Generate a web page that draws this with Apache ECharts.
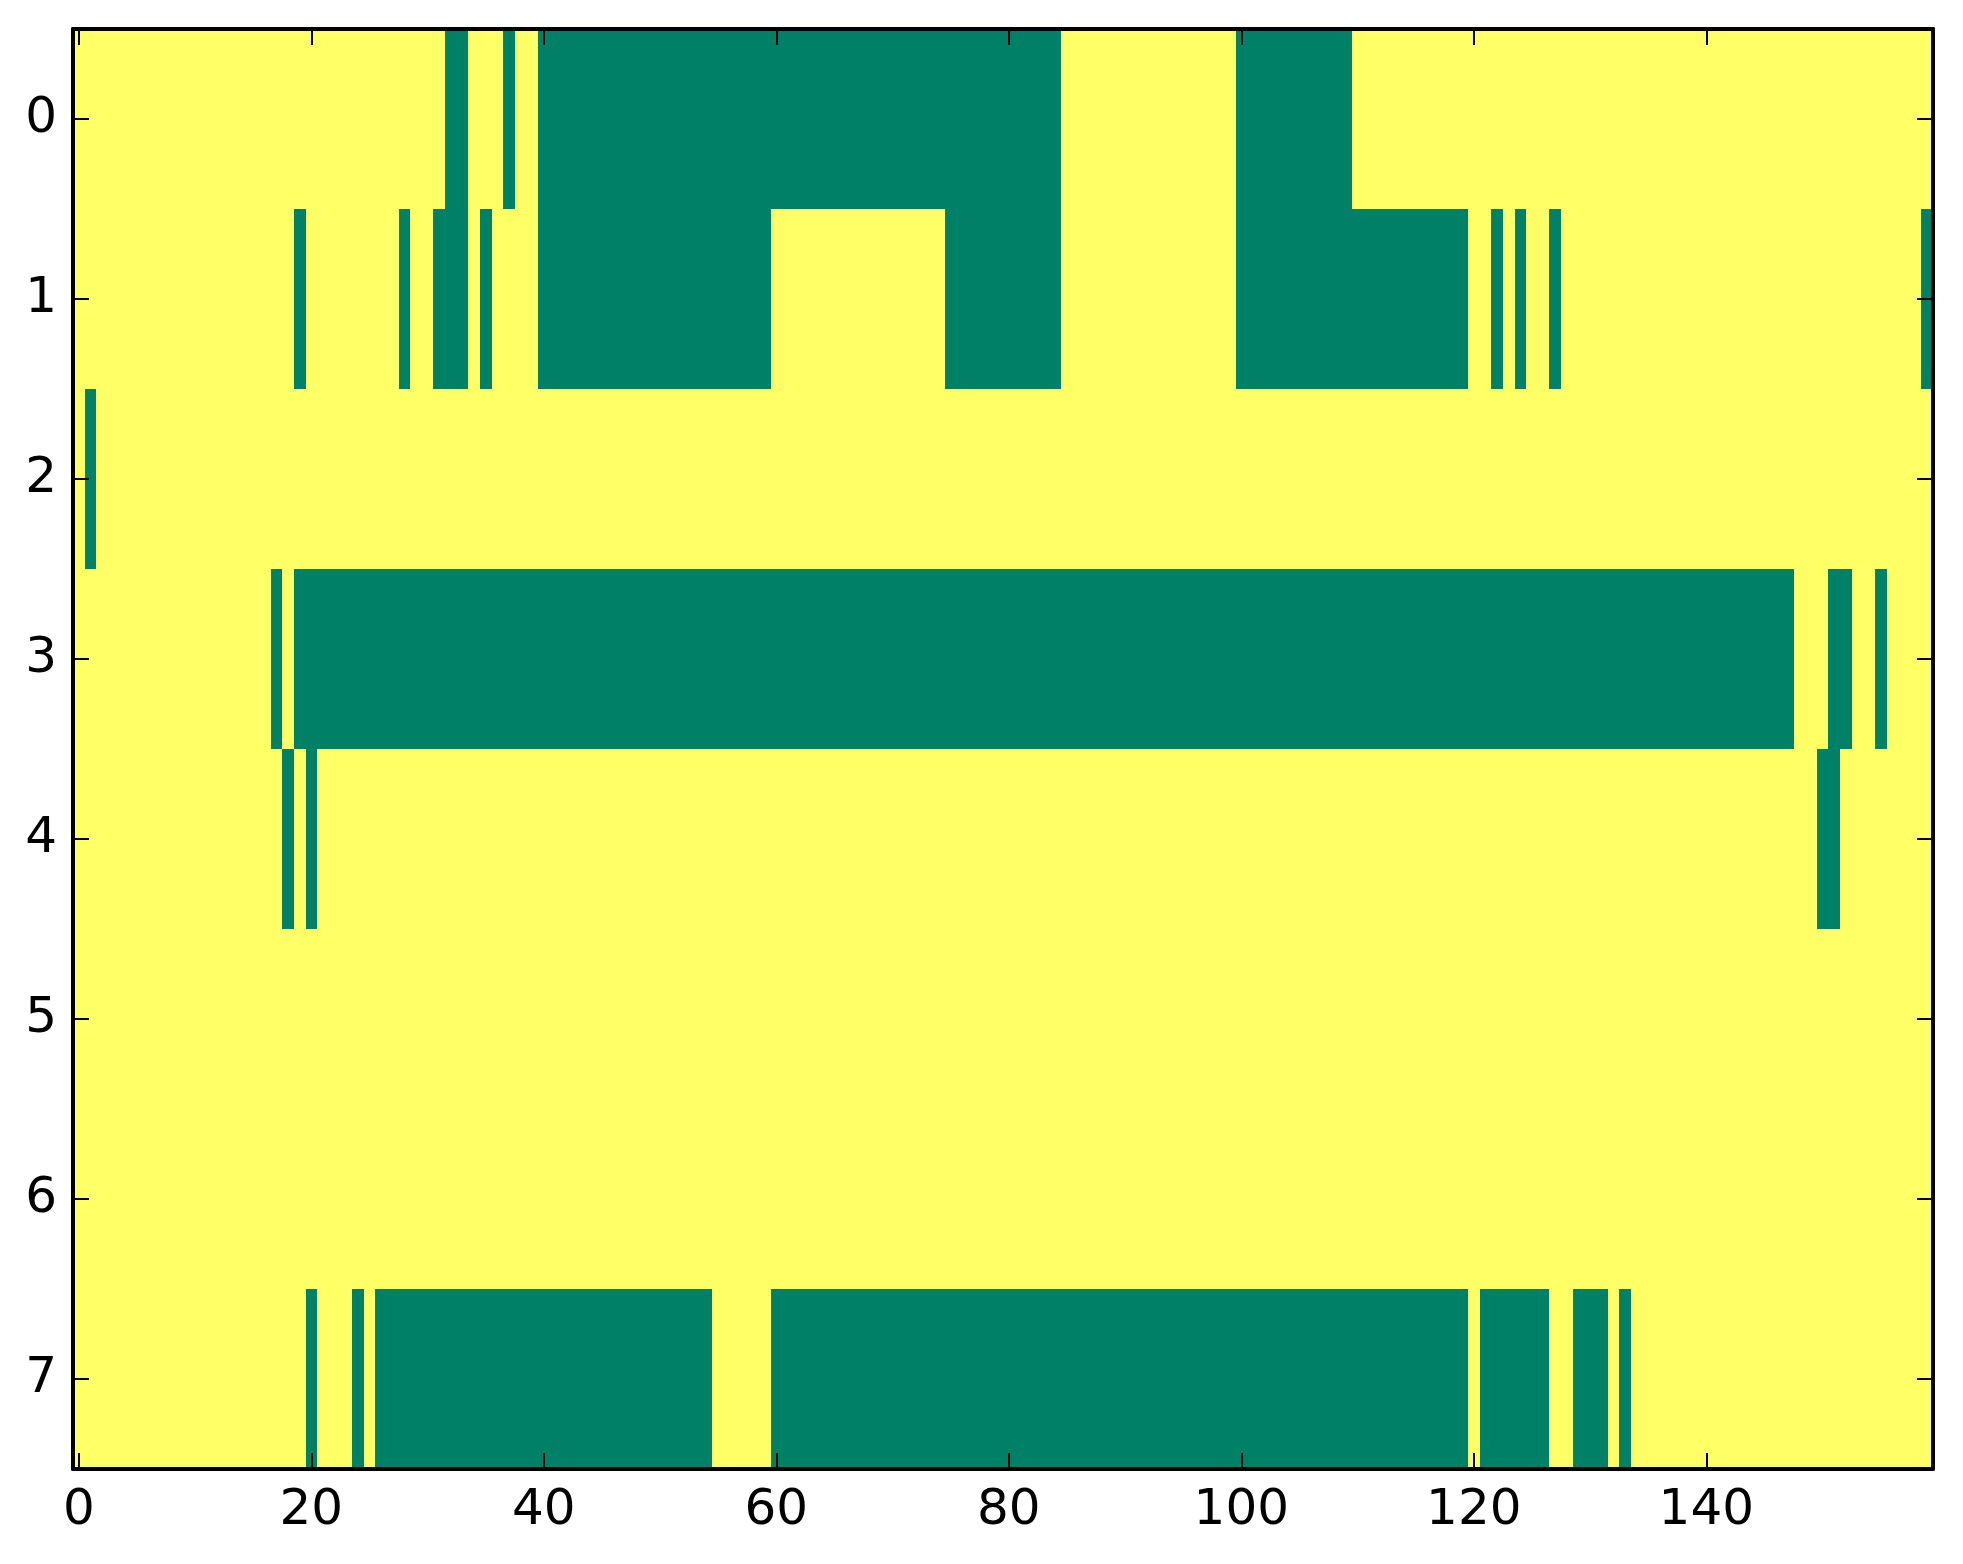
<!DOCTYPE html>
<html>
<head>
<meta charset="utf-8">
<script src="https://cdn.jsdelivr.net/npm/echarts@6/dist/echarts.min.js"></script>
<style>
html,body{margin:0;padding:0;background:#fff;}
#chart{width:1963px;height:1564px;}
</style>
</head>
<body>
<div id="chart"></div>
<script>
// Column categories (0..159) and row categories (0..7)
var columns = [];
for (var c = 0; c < 160; c++) columns.push(String(c));
var rows = ['0','1','2','3','4','5','6','7'];

// Green (value 0) runs per row, [startCol, endCol] inclusive; everything else is 1 (yellow)
var row0Green = [[32,33],[37,37],[40,84],[100,109]];
var row1Green = [[19,19],[28,28],[31,33],[35,35],[40,59],[75,84],[100,119],[122,122],[124,124],[127,127],[159,159]];
var row2Green = [[1,1]];
var row3Green = [[17,17],[19,147],[151,152],[155,155]];
var row4Green = [[18,18],[20,20],[150,151]];
var row5Green = [];
var row6Green = [];
var row7Green = [[20,20],[24,24],[26,54],[60,119],[121,126],[129,131],[133,133]];
var greenRuns = [row0Green,row1Green,row2Green,row3Green,row4Green,row5Green,row6Green,row7Green];

var xTickEvery = 20;

var data = [];
for (var r = 0; r < rows.length; r++) {
  for (var x = 0; x < columns.length; x++) {
    var v = 1;
    greenRuns[r].forEach(function (run) { if (x >= run[0] && x <= run[1]) v = 0; });
    data.push([x, r, v]);
  }
}

var GREEN = '#008066', YELLOW = '#ffff66';
var chart = echarts.init(document.getElementById('chart'), null, {renderer:'canvas'});
var FONT = 'DejaVu Sans';
var lineStyle = {color:'#000', width:4};
var tickStyle = {color:'#000', width:2};
var xTickFn = function (i) { return i % xTickEvery === 0; };

function renderCell(params, api) {
  var p = api.coord([api.value(0), api.value(1)]);
  var s = api.size([1, 1]);
  var x0 = Math.round(p[0] - s[0] / 2), x1 = Math.round(p[0] + s[0] / 2);
  var y0 = Math.round(p[1] - s[1] / 2), y1 = Math.round(p[1] + s[1] / 2);
  return {
    type: 'rect',
    shape: {x: x0, y: y0, width: x1 - x0, height: y1 - y0},
    style: {fill: api.value(2) ? YELLOW : GREEN, stroke: null}
  };
}

chart.setOption({
  animation: false,
  backgroundColor: '#fff',
  grid: {left:73, top:29, width:1860, height:1440, containLabel:false},
  xAxis: [
    {type:'category', data:columns, position:'bottom', boundaryGap:true, z:10,
     axisLine:{show:true, lineStyle:lineStyle},
     axisTick:{show:true, inside:true, length:16, alignWithLabel:true, interval:xTickFn, lineStyle:tickStyle},
     axisLabel:{show:true, interval:xTickFn, margin:17, fontFamily:FONT, fontSize:50, color:'#000'},
     splitLine:{show:false}},
    {type:'category', data:columns, position:'top', boundaryGap:true, z:10,
     axisLine:{show:true, lineStyle:lineStyle},
     axisTick:{show:true, inside:true, length:16, alignWithLabel:true, interval:xTickFn, lineStyle:tickStyle},
     axisLabel:{show:false}, splitLine:{show:false}}
  ],
  yAxis: [
    {type:'category', data:rows, inverse:true, position:'left', boundaryGap:true, z:10,
     axisLine:{show:true, lineStyle:lineStyle},
     axisTick:{show:true, inside:true, length:16, alignWithLabel:true, interval:0, lineStyle:tickStyle},
     axisLabel:{show:true, interval:0, margin:16, fontFamily:FONT, fontSize:50, color:'#000'},
     splitLine:{show:false}},
    {type:'category', data:rows, inverse:true, position:'right', boundaryGap:true, z:10,
     axisLine:{show:true, lineStyle:lineStyle},
     axisTick:{show:true, inside:true, length:16, alignWithLabel:true, interval:0, lineStyle:tickStyle},
     axisLabel:{show:false}, splitLine:{show:false}}
  ],
  series: [{
    type:'custom', xAxisIndex:0, yAxisIndex:0, data:data,
    renderItem: renderCell, z:1, silent:true,
    encode:{x:0, y:1}
  }]
});
</script>
</body>
</html>
